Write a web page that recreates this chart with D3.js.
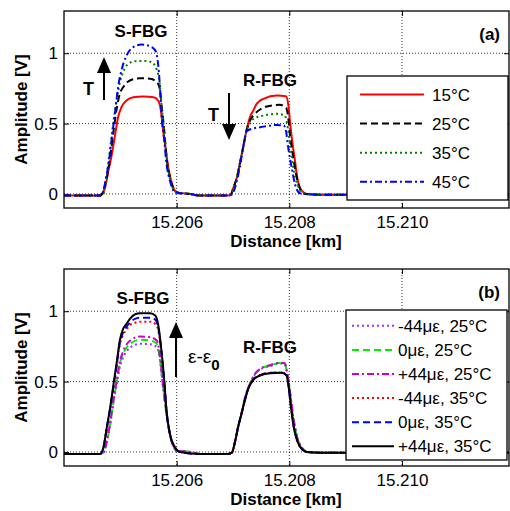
<!DOCTYPE html>
<html>
<head>
<meta charset="utf-8">
<script src="https://cdn.jsdelivr.net/npm/d3@7"></script>
<style>
  body { margin: 0; background: #fff; }
  text { font-family: "Liberation Sans", Arial, sans-serif; fill: #000; }
</style>
</head>
<body>
<svg id="chart" width="510" height="511"></svg>
<script>
// Axis ticks
const xTicks = [15.206, 15.208, 15.210];
const xTickLabels = ["15.206", "15.208", "15.210"];
const yTicks = [0, 0.5, 1];
const yTickLabels = ["0", "0.5", "1"];

// (a) temperature series, [distance km, amplitude V]
const a15 = [[15.2040,-0.012],[15.20464,-0.012],[15.20467,-0.005],[15.20473,0.047],[15.20479,0.166],[15.20485,0.284],[15.20491,0.427],[15.20496,0.545],[15.20502,0.616],[15.20511,0.664],[15.20523,0.687],[15.20541,0.692],[15.20559,0.687],[15.20567,0.664],[15.20572,0.593],[15.20576,0.45],[15.20581,0.308],[15.20585,0.19],[15.20591,0.083],[15.20600,0.011],[15.20624,0.0],[15.20641,-0.012],[15.20691,-0.012],[15.20696,-0.005],[15.20701,0.047],[15.20707,0.118],[15.20712,0.213],[15.20718,0.331],[15.20724,0.45],[15.20730,0.545],[15.20736,0.592],[15.20742,0.64],[15.20754,0.676],[15.20778,0.699],[15.20794,0.694],[15.20798,0.64],[15.20801,0.523],[15.20805,0.379],[15.20810,0.237],[15.20814,0.118],[15.20822,0.023],[15.20831,0.0],[15.20854,-0.005],[15.2119,-0.005]];
const a25 = [[15.2040,-0.012],[15.20464,-0.012],[15.20470,0.023],[15.20476,0.118],[15.20482,0.26],[15.20488,0.45],[15.20494,0.616],[15.20499,0.711],[15.20505,0.758],[15.20517,0.806],[15.20535,0.822],[15.20553,0.818],[15.20565,0.794],[15.20570,0.747],[15.20573,0.64],[15.20578,0.45],[15.20582,0.26],[15.20588,0.118],[15.20597,0.023],[15.20606,0.005],[15.20624,0.0],[15.20641,-0.012],[15.20691,-0.012],[15.20696,-0.005],[15.20701,0.047],[15.20707,0.118],[15.20712,0.213],[15.20718,0.331],[15.20724,0.45],[15.20730,0.52],[15.20739,0.57],[15.20748,0.60],[15.20760,0.621],[15.20783,0.633],[15.20794,0.614],[15.20798,0.545],[15.20801,0.427],[15.20806,0.284],[15.20812,0.142],[15.20819,0.036],[15.20828,0.0],[15.20854,-0.005],[15.2119,-0.005]];
const a35 = [[15.2040,-0.012],[15.20464,-0.012],[15.20470,0.0],[15.20476,0.14],[15.20482,0.33],[15.20488,0.52],[15.20494,0.68],[15.20499,0.79],[15.20505,0.865],[15.20511,0.912],[15.20526,0.943],[15.20541,0.945],[15.20553,0.94],[15.20562,0.91],[15.20565,0.88],[15.20567,0.853],[15.20570,0.78],[15.20573,0.64],[15.20578,0.45],[15.20582,0.26],[15.20588,0.11],[15.20597,0.02],[15.20606,0.005],[15.20624,0.0],[15.20641,-0.012],[15.20691,-0.012],[15.20696,-0.005],[15.20701,0.047],[15.20707,0.118],[15.20712,0.213],[15.20718,0.331],[15.20724,0.45],[15.20730,0.50],[15.20736,0.533],[15.20754,0.557],[15.20778,0.569],[15.20792,0.557],[15.20798,0.45],[15.20802,0.331],[15.20807,0.19],[15.20814,0.071],[15.20825,0.004],[15.20854,-0.005],[15.2119,-0.005]];
const a45 = [[15.2040,-0.012],[15.20464,-0.012],[15.20470,0.02],[15.20473,0.08],[15.20479,0.213],[15.20485,0.40],[15.20491,0.592],[15.20496,0.758],[15.20502,0.877],[15.20511,0.984],[15.20523,1.043],[15.20538,1.062],[15.20553,1.048],[15.20562,1.02],[15.20567,0.925],[15.20570,0.782],[15.20573,0.569],[15.20578,0.379],[15.20582,0.213],[15.20588,0.095],[15.20597,0.011],[15.20606,0.004],[15.20624,0.0],[15.20641,-0.012],[15.20691,-0.012],[15.20698,-0.005],[15.20704,0.05],[15.20712,0.19],[15.20718,0.33],[15.20724,0.445],[15.20736,0.465],[15.20748,0.474],[15.20778,0.49],[15.20790,0.486],[15.20794,0.45],[15.20798,0.331],[15.20804,0.19],[15.20810,0.071],[15.20819,0.004],[15.20854,-0.005],[15.2119,-0.005]];

// (b) strain series
const bM44_25 = [[15.2040,-0.014],[15.20464,-0.014],[15.20470,-0.006],[15.20476,0.07],[15.20482,0.19],[15.20488,0.355],[15.20494,0.49],[15.20499,0.60],[15.20505,0.67],[15.20517,0.74],[15.20535,0.768],[15.20553,0.765],[15.20565,0.745],[15.20570,0.66],[15.20576,0.45],[15.20582,0.265],[15.20591,0.078],[15.20600,0.009],[15.20624,0.0],[15.20641,-0.014],[15.20691,-0.014],[15.20698,-0.005],[15.20704,0.08],[15.20709,0.175],[15.20715,0.27],[15.20721,0.378],[15.20730,0.48],[15.20739,0.55],[15.20748,0.585],[15.20766,0.61],[15.20783,0.628],[15.20792,0.624],[15.20796,0.562],[15.20801,0.432],[15.20807,0.244],[15.20814,0.103],[15.20824,0.021],[15.20831,0.0],[15.20854,-0.005],[15.2119,-0.005]];
const b0_25 = [[15.2040,-0.014],[15.20464,-0.014],[15.20470,-0.005],[15.20476,0.075],[15.20482,0.199],[15.20488,0.365],[15.20494,0.507],[15.20499,0.626],[15.20505,0.697],[15.20517,0.768],[15.20535,0.797],[15.20553,0.792],[15.20565,0.768],[15.20570,0.673],[15.20576,0.459],[15.20582,0.27],[15.20591,0.08],[15.20600,0.009],[15.20624,0.0],[15.20641,-0.014],[15.20691,-0.014],[15.20698,-0.005],[15.20704,0.08],[15.20709,0.175],[15.20715,0.27],[15.20721,0.38],[15.20730,0.482],[15.20739,0.553],[15.20748,0.588],[15.20766,0.614],[15.20783,0.632],[15.20792,0.628],[15.20796,0.565],[15.20801,0.435],[15.20807,0.246],[15.20814,0.104],[15.20824,0.021],[15.20831,0.0],[15.20854,-0.005],[15.2119,-0.005]];
const bP44_25 = [[15.2040,-0.014],[15.20464,-0.014],[15.20470,-0.005],[15.20476,0.08],[15.20482,0.21],[15.20488,0.375],[15.20494,0.52],[15.20499,0.64],[15.20505,0.715],[15.20517,0.79],[15.20535,0.82],[15.20553,0.815],[15.20565,0.79],[15.20570,0.69],[15.20576,0.47],[15.20582,0.275],[15.20591,0.08],[15.20600,0.009],[15.20624,0.0],[15.20641,-0.014],[15.20691,-0.014],[15.20698,-0.005],[15.20704,0.08],[15.20709,0.175],[15.20715,0.27],[15.20721,0.38],[15.20730,0.483],[15.20739,0.555],[15.20748,0.59],[15.20766,0.616],[15.20783,0.635],[15.20792,0.63],[15.20796,0.566],[15.20801,0.436],[15.20807,0.246],[15.20814,0.104],[15.20824,0.021],[15.20831,0.0],[15.20854,-0.005],[15.2119,-0.005]];
const bM44_35 = [[15.2040,-0.014],[15.20464,-0.014],[15.20470,0.03],[15.20476,0.168],[15.20482,0.305],[15.20488,0.465],[15.20494,0.62],[15.20499,0.76],[15.20505,0.83],[15.20511,0.87],[15.20517,0.90],[15.20526,0.918],[15.20535,0.926],[15.20553,0.926],[15.20562,0.91],[15.20567,0.87],[15.20573,0.70],[15.20578,0.495],[15.20582,0.288],[15.20588,0.124],[15.20597,0.03],[15.20606,0.0],[15.20641,-0.014],[15.20691,-0.014],[15.20698,-0.005],[15.20704,0.08],[15.20709,0.175],[15.20715,0.27],[15.20721,0.365],[15.20727,0.449],[15.20736,0.513],[15.20748,0.545],[15.20766,0.561],[15.20786,0.564],[15.20795,0.545],[15.20799,0.46],[15.20803,0.318],[15.20808,0.176],[15.20814,0.081],[15.20822,0.021],[15.20831,0.0],[15.20854,-0.005],[15.2119,-0.005]];
const b0_35 = [[15.2040,-0.014],[15.20464,-0.014],[15.20470,0.03],[15.20476,0.17],[15.20482,0.31],[15.20488,0.47],[15.20494,0.63],[15.20499,0.77],[15.20505,0.85],[15.20511,0.89],[15.20517,0.92],[15.20526,0.945],[15.20535,0.954],[15.20553,0.954],[15.20562,0.94],[15.20567,0.89],[15.20573,0.71],[15.20578,0.50],[15.20582,0.29],[15.20588,0.125],[15.20597,0.03],[15.20606,0.0],[15.20641,-0.014],[15.20691,-0.014],[15.20698,-0.005],[15.20704,0.08],[15.20709,0.175],[15.20715,0.27],[15.20721,0.365],[15.20727,0.45],[15.20736,0.515],[15.20748,0.546],[15.20766,0.562],[15.20786,0.565],[15.20795,0.546],[15.20799,0.46],[15.20803,0.32],[15.20808,0.178],[15.20814,0.082],[15.20822,0.022],[15.20831,0.0],[15.20854,-0.005],[15.2119,-0.005]];
const bP44_35 = [[15.2040,-0.014],[15.20464,-0.014],[15.20470,0.033],[15.20476,0.175],[15.20482,0.317],[15.20488,0.483],[15.20494,0.649],[15.20499,0.792],[15.20505,0.875],[15.20511,0.91],[15.20517,0.946],[15.20526,0.977],[15.20535,0.986],[15.20553,0.986],[15.20562,0.97],[15.20567,0.91],[15.20573,0.72],[15.20578,0.507],[15.20582,0.294],[15.20588,0.128],[15.20597,0.033],[15.20606,0.0],[15.20641,-0.014],[15.20691,-0.014],[15.20698,-0.005],[15.20704,0.08],[15.20709,0.175],[15.20715,0.27],[15.20721,0.365],[15.20727,0.448],[15.20736,0.512],[15.20748,0.543],[15.20766,0.559],[15.20786,0.562],[15.20795,0.543],[15.20799,0.459],[15.20803,0.317],[15.20808,0.175],[15.20814,0.08],[15.20822,0.021],[15.20831,0.0],[15.20854,-0.005],[15.2119,-0.005]];

const legendA = ["15°C", "25°C", "35°C", "45°C"];
const legendB = ["-44με, 25°C", "0με, 25°C", "+44με, 25°C", "-44με, 35°C", "0με, 35°C", "+44με, 35°C"];

// line styles (MATLAB-like)
const DASH = "7,4", DOT = "2,3", DASHDOT = "7,3,2,3";

const svg = d3.select("#chart");
const x = d3.scaleLinear().domain([15.204, 15.2119]).range([64, 509]);

function drawPanel(p) {
  const y = d3.scaleLinear().domain([-0.1, 1.3]).range([p.bottom, p.top]);
  const g = svg.append("g");

  g.append("clipPath").attr("id", "clip" + p.id)
    .append("rect")
    .attr("x", 64).attr("y", p.top)
    .attr("width", 509 - 64).attr("height", p.bottom - p.top);

  // dotted grid
  g.selectAll(".gx").data(xTicks).join("line")
    .attr("x1", d => x(d)).attr("x2", d => x(d))
    .attr("y1", p.top).attr("y2", p.bottom)
    .attr("stroke", "#000").attr("stroke-width", 0.8).attr("stroke-dasharray", "1,2");
  g.selectAll(".gy").data(yTicks).join("line")
    .attr("x1", 64).attr("x2", 509)
    .attr("y1", d => y(d)).attr("y2", d => y(d))
    .attr("stroke", "#000").attr("stroke-width", 0.8).attr("stroke-dasharray", "1,2");

  // axes with inner ticks
  const xb = g.append("g").attr("transform", `translate(0,${p.bottom})`)
    .call(d3.axisBottom(x).tickValues(xTicks).tickSizeInner(-5).tickSizeOuter(0)
      .tickPadding(8).tickFormat((d, i) => xTickLabels[i]));
  g.append("g").attr("transform", `translate(0,${p.top})`)
    .call(d3.axisTop(x).tickValues(xTicks).tickSizeInner(-5).tickSizeOuter(0).tickFormat(""));
  const yl = g.append("g").attr("transform", "translate(64,0)")
    .call(d3.axisLeft(y).tickValues(yTicks).tickSizeInner(-5).tickSizeOuter(0)
      .tickPadding(6).tickFormat((d, i) => yTickLabels[i]));
  g.append("g").attr("transform", "translate(509,0)")
    .call(d3.axisRight(y).tickValues(yTicks).tickSizeInner(-5).tickSizeOuter(0).tickFormat(""));
  g.selectAll(".domain").remove();
  g.selectAll(".tick line").attr("stroke", "#000");
  g.selectAll(".tick text").attr("font-size", 17).attr("fill", "#000")
    .attr("font-family", "Liberation Sans, Arial, sans-serif");

  // series
  const line = d3.line().x(d => x(d[0])).y(d => y(d[1])).curve(d3.curveMonotoneX);
  g.append("g").attr("clip-path", `url(#clip${p.id})`)
    .selectAll("path").data(p.series).join("path")
    .attr("d", s => line(s.data))
    .attr("fill", "none")
    .attr("stroke", s => s.color)
    .attr("stroke-width", 2)
    .attr("stroke-dasharray", s => s.dash);

  // box
  g.append("rect").attr("x", 64).attr("y", p.top)
    .attr("width", 509 - 64).attr("height", p.bottom - p.top)
    .attr("fill", "none").attr("stroke", "#000").attr("stroke-width", 1.3);

  // axis labels
  g.append("text").attr("x", 286).attr("y", p.bottom + 39)
    .attr("text-anchor", "middle").attr("font-size", 17).attr("font-weight", "bold")
    .text("Distance [km]");
  g.append("text")
    .attr("transform", `translate(27,${(p.top + p.bottom) / 2}) rotate(-90)`)
    .attr("text-anchor", "middle").attr("font-size", 17).attr("font-weight", "bold")
    .text("Amplitude [V]");

  // panel tag
  g.append("text").attr("x", 500).attr("y", p.top + 29)
    .attr("text-anchor", "end").attr("font-size", 17).attr("font-weight", "bold")
    .text(p.tag);

  // legend
  const L = p.legend;
  g.append("rect").attr("x", L.x).attr("y", L.y).attr("width", L.w).attr("height", L.h)
    .attr("fill", "#fff").attr("stroke", "#000").attr("stroke-width", 1.3);
  const item = g.selectAll(".leg").data(p.series).join("g")
    .attr("transform", (s, i) => `translate(0,${L.y0 + i * L.step})`);
  item.append("line")
    .attr("x1", L.lx1).attr("x2", L.lx2)
    .attr("stroke", s => s.color).attr("stroke-width", 2)
    .attr("stroke-dasharray", s => s.dash);
  item.append("text").attr("x", L.tx).attr("dy", "0.36em")
    .attr("font-size", 17)
    .text((s, i) => p.labels[i]);
  return { g, y };
}

function arrow(g, xp, yFrom, yTip, dir) {
  g.append("line").attr("x1", xp).attr("x2", xp)
    .attr("y1", yFrom).attr("y2", yTip + dir * 10)
    .attr("stroke", "#000").attr("stroke-width", 2);
  g.append("path")
    .attr("d", `M${xp},${yTip} L${xp - 7},${yTip + dir * 16} L${xp + 7},${yTip + dir * 16} Z`)
    .attr("fill", "#000");
}

// panel (a)
const pa = drawPanel({
  id: "a", top: 11, bottom: 208, tag: "(a)",
  series: [
    { data: a15, color: "#ff0000", dash: null },
    { data: a25, color: "#000000", dash: DASH },
    { data: a35, color: "#008000", dash: DOT },
    { data: a45, color: "#0000ff", dash: DASHDOT }
  ],
  labels: legendA,
  legend: { x: 347, y: 76, w: 161, h: 124, y0: 94.5, step: 29.1, lx1: 360, lx2: 424, tx: 432 }
});
pa.g.append("text").attr("x", 141).attr("y", 37).attr("text-anchor", "middle")
  .attr("font-size", 17).attr("font-weight", "bold").text("S-FBG");
pa.g.append("text").attr("x", 270).attr("y", 86).attr("text-anchor", "middle")
  .attr("font-size", 17).attr("font-weight", "bold").text("R-FBG");
pa.g.append("text").attr("x", 83).attr("y", 95)
  .attr("font-size", 18).attr("font-weight", "bold").text("T");
arrow(pa.g, 104, 100, 57, 1);
pa.g.append("text").attr("x", 208).attr("y", 121)
  .attr("font-size", 18).attr("font-weight", "bold").text("T");
arrow(pa.g, 229, 93, 140, -1);

// panel (b)
const pb = drawPanel({
  id: "b", top: 269, bottom: 466, tag: "(b)",
  series: [
    { data: bM44_25, color: "#9933ff", dash: DOT },
    { data: b0_25, color: "#00ee00", dash: DASH },
    { data: bP44_25, color: "#cc00cc", dash: DASHDOT },
    { data: bM44_35, color: "#ff0000", dash: DOT },
    { data: b0_35, color: "#0000ff", dash: DASH },
    { data: bP44_35, color: "#000000", dash: null }
  ],
  labels: legendB,
  legend: { x: 346, y: 310, w: 161, h: 150, y0: 325.8, step: 24.1, lx1: 352, lx2: 394, tx: 398 }
});
pb.g.append("text").attr("x", 143).attr("y", 304).attr("text-anchor", "middle")
  .attr("font-size", 17).attr("font-weight", "bold").text("S-FBG");
pb.g.append("text").attr("x", 270).attr("y", 353).attr("text-anchor", "middle")
  .attr("font-size", 17).attr("font-weight", "bold").text("R-FBG");
arrow(pb.g, 176, 377, 322, 1);
const eps = pb.g.append("text").attr("x", 188).attr("y", 363).attr("font-size", 19);
eps.append("tspan").text("ε-ε");
eps.append("tspan").attr("dy", 7).attr("font-size", 15).attr("font-weight", "bold").text("0");
</script>
</body>
</html>
